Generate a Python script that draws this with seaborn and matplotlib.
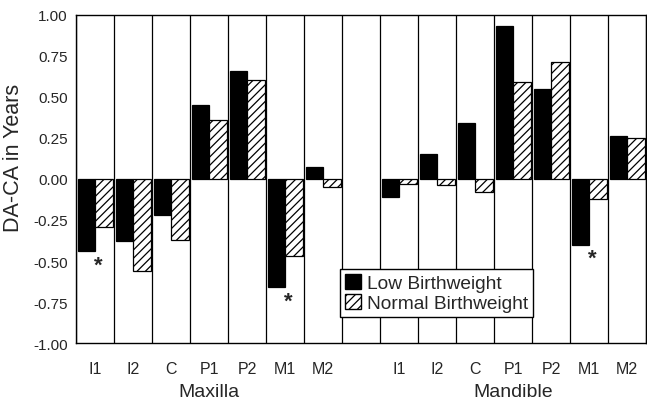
import matplotlib
matplotlib.use("Agg")
import matplotlib.pyplot as plt
import matplotlib.patches as mpatches
import matplotlib.transforms as mtransforms
import seaborn as sns
import pandas as pd
import numpy as np

# ---- data ----
teeth = ["I1", "I2", "C", "P1", "P2", "M1", "M2"]
jaws = ["Maxilla", "Mandible"]
groups = ["Low Birthweight", "Normal Birthweight"]
maxilla_low = [-0.44, -0.38, -0.22, 0.45, 0.66, -0.66, 0.07]
maxilla_normal = [-0.29, -0.56, -0.37, 0.36, 0.60, -0.47, -0.05]
mandible_low = [-0.11, 0.15, 0.34, 0.93, 0.55, -0.40, 0.26]
mandible_normal = [-0.03, -0.04, -0.08, 0.59, 0.71, -0.12, 0.25]
significant = [("Maxilla", "I1"), ("Maxilla", "M1"), ("Mandible", "M1")]
yticks = [-1.00, -0.75, -0.50, -0.25, 0.00, 0.25, 0.50, 0.75, 1.00]

rows = []
for jaw, lo, no in [("Maxilla", maxilla_low, maxilla_normal),
                    ("Mandible", mandible_low, mandible_normal)]:
    for t, a, b in zip(teeth, lo, no):
        rows.append({"slot": f"{jaw} {t}", "group": groups[0], "value": a})
        rows.append({"slot": f"{jaw} {t}", "group": groups[1], "value": b})
df = pd.DataFrame(rows)
order = [f"Maxilla {t}" for t in teeth] + ["gap"] + [f"Mandible {t}" for t in teeth]

sns.set_theme(style="white")
plt.rcParams["font.family"] = ["Liberation Sans", "DejaVu Sans"]
plt.rcParams["axes.unicode_minus"] = False
plt.rcParams["hatch.linewidth"] = 0.9

fig = plt.figure(figsize=(6.47, 4.02), dpi=100)
ax = fig.add_axes([0.1175, 0.144, 0.881, 0.817])

sns.barplot(data=df, x="slot", y="value", hue="group", order=order,
            hue_order=groups, palette=["black", "white"], width=0.92,
            gap=0, edgecolor="black", linewidth=0.9, legend=False, ax=ax,
            errorbar=None, saturation=1)

# hatch the normal-birthweight bars
for bar_container, g in zip(ax.containers, groups):
    if g == "Normal Birthweight":
        for p in bar_container:
            p.set_hatch("////")
            p.set_facecolor("white")

ax.set_xlim(-0.5, len(order) - 0.5)
ax.set_ylim(-1.0, 1.0)
for i in range(len(order) + 1):
    ax.axvline(i - 0.5, color="black", lw=0.9, zorder=0)

ax.set_yticks(yticks)
ax.set_yticklabels([f"{v:.2f}" for v in yticks], fontsize=11)
ax.tick_params(axis="y", direction="out", length=4, width=0.9, color="black", pad=2)
ax.tick_params(axis="x", length=0, pad=13)
ax.set_xticks(range(len(order)))
ax.set_xticklabels([s.split(" ")[1] if s != "gap" else "" for s in order], fontsize=11.5)
for sp in ax.spines.values():
    sp.set_visible(True)
    sp.set_color("black")
    sp.set_linewidth(1.0)

ax.set_xlabel("")
ax.set_ylabel("DA-CA in Years", fontsize=15.5)
ax.yaxis.set_label_coords(-0.092, 0.567)

# group labels
trans = mtransforms.blended_transform_factory(ax.transData, ax.transAxes)
ax.text(3, -0.146, "Maxilla", ha="center", va="center", fontsize=14,
        transform=trans, clip_on=False)
ax.text(11, -0.146, "Mandible", ha="center", va="center", fontsize=14,
        transform=trans, clip_on=False)

# significance asterisks
vals = {("Maxilla", t): (a, b) for t, a, b in zip(teeth, maxilla_low, maxilla_normal)}
vals.update({("Mandible", t): (a, b) for t, a, b in zip(teeth, mandible_low, mandible_normal)})
for jaw, t in significant:
    xi = order.index(f"{jaw} {t}")
    ymin = min(vals[(jaw, t)])
    ax.text(xi + 0.08, ymin - 0.085, "*", ha="center", va="center",
            fontsize=16, fontweight="bold")

handles = [mpatches.Patch(facecolor="black", edgecolor="black", label=groups[0]),
           mpatches.Patch(facecolor="white", edgecolor="black", hatch="////", label=groups[1])]
leg = ax.legend(handles=handles, loc="upper left", bbox_to_anchor=(0.463, 0.2256),
                fontsize=13.8, frameon=True, fancybox=False, framealpha=1,
                edgecolor="black", handlelength=0.85, handleheight=0.85,
                handletextpad=0.3, borderpad=0.25, labelspacing=0.1,
                borderaxespad=0)
leg.get_frame().set_linewidth(1.0)

fig.savefig("out.png", dpi=100)
